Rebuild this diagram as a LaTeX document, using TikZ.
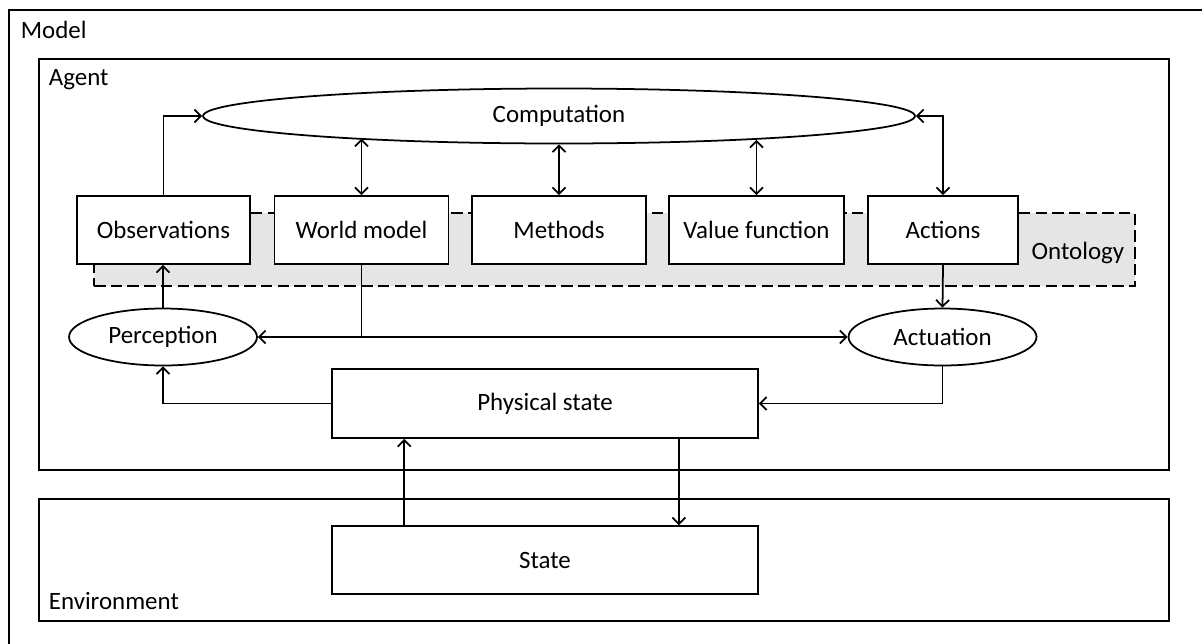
\documentclass[tikz,border=0pt]{standalone}
\usepackage{fontspec}
\setmainfont{Carlito}
\usetikzlibrary{arrows.meta,positioning,shapes.geometric}

\begin{document}
\begin{tikzpicture}[
    x=0.02cm, y=-0.02cm,
    font=\fontsize{14.2}{17}\selectfont,
    line width=1pt,
    box/.style={rectangle, draw, fill=white, align=center, minimum height=1.36cm, inner sep=0pt},
    oval/.style={ellipse, draw, fill=white, inner sep=0pt, minimum width=3.76cm, minimum height=1.14cm},
    frame/.style={rectangle, draw, anchor=north west, inner sep=0pt},
    tag/.style={anchor=base west, inner sep=0pt},
    arrow/.style={-{Straight Barb[length=1.3mm,width=2.6mm]}},
    both/.style={{Straight Barb[length=1.3mm,width=2.6mm]}-{Straight Barb[length=1.3mm,width=2.6mm]}}
]
\clip (0,0) rectangle (1202,643);
% containers
\node[frame, minimum width=24cm, minimum height=12.8cm] (model) at (8,9) {};
\node[tag] (modeltag) at (20,38) {Model};
\node[frame, minimum width=22.6cm, minimum height=8.22cm] (agent) at (38,58) {};
\node[tag] (agenttag) at (48,85) {Agent};
\node[frame, minimum width=22.6cm, minimum height=2.44cm] (env) at (38,498) {};
\node[tag] (envtag) at (48,609) {Environment};
% ontology band
\node[rectangle, draw, dash pattern=on 6.5pt off 3pt, fill=gray!20, minimum width=20.82cm, minimum height=1.46cm, inner sep=0pt] (onto) at (614.5,249.5) {};
\node[anchor=base, inner sep=0pt] (ontotag) at (1078,259) {Ontology};
% agent parts
\node[box, minimum width=3.46cm] (obs) at (163.5,230) {Observations};
\node[box, minimum width=3.48cm] (world) at (361.5,230) {World model};
\node[box, minimum width=3.48cm] (methods) at (559,230) {Methods};
\node[box, minimum width=3.5cm] (value) at (756.5,230) {Value function};
\node[box, minimum width=3cm] (actions) at (943,230) {Actions};
\node[oval, minimum width=14.24cm, minimum height=1.1cm] (comp) at (559,116) {Computation};
\node[oval] (perc) at (163,337) {Perception};
\node[oval] (act) at (942.5,337) {Actuation};
\node[box, minimum width=8.52cm, minimum height=1.38cm] (phys) at (545,403.5) {Physical state};
\node[box, minimum width=8.52cm] (state) at (545,560) {State};
% connectors
\draw[arrow] (obs.north) |- (comp.west);
\draw[both] (world.north) -- (world.north |- comp.186.6);
\draw[both] (methods.north) -- (comp.south);
\draw[both] (value.north) -- (value.north |- comp.353.4);
\draw[both] (comp.east) -| (actions.north);
\draw (world.south) -- (world.south |- perc.east);
\draw[both] (perc.east) -- (act.west);
\draw[arrow] (perc.north) -- (perc.north |- obs.south);
\draw[arrow] (phys.west) -| (perc.south);
\draw[arrow] (actions.south) -- (act.north);
\draw[arrow] (act.south) |- (phys.east);
\draw[arrow] ([xshift=1.46cm]state.north west) -- ([xshift=1.46cm]phys.south west);
\draw[arrow] ([xshift=-1.6cm]phys.south east) -- ([xshift=-1.6cm]state.north east);
\end{tikzpicture}
\end{document}
